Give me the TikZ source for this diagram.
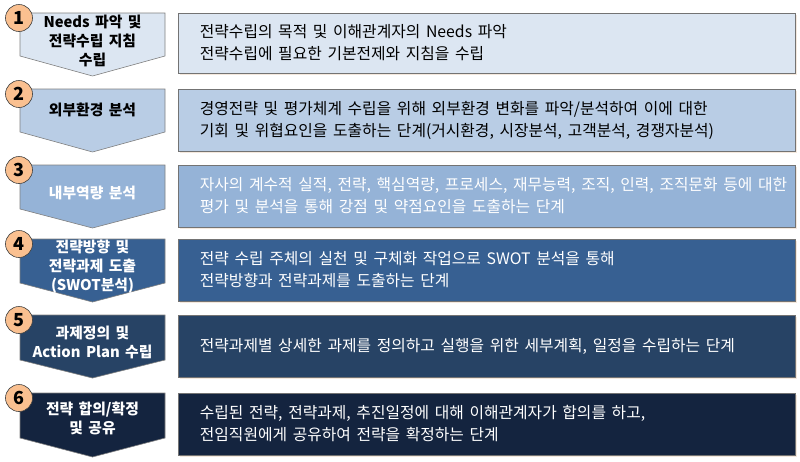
\documentclass[tikz,border=0pt]{standalone}
\usepackage{fontspec}
\setmainfont{Noto Sans CJK KR}[WordSpace=1.6]
\usetikzlibrary{shadows,positioning}
\definecolor{lvA}{HTML}{DCE6F2}
\definecolor{lvB}{HTML}{B9CDE5}
\definecolor{lvC}{HTML}{95B3D7}
\definecolor{lvD}{HTML}{376092}
\definecolor{lvE}{HTML}{274365}
\definecolor{lvF}{HTML}{14243F}
\definecolor{badge}{HTML}{FAC090}
\tikzstyle{chevron}=[draw=black!50,line width=0.6pt]
\tikzstyle{stepname}=[align=center,inner sep=0pt,font=\bfseries\fontsize{14.8}{19}\selectfont]
\tikzstyle{panel}=[rectangle,draw=black!55,line width=0.6pt,minimum width=617pt,minimum height=62pt,drop shadow={shadow xshift=1.5pt,shadow yshift=-1.5pt,fill=brown!30,opacity=0.6}]
\tikzstyle{detail}=[align=left,inner sep=0pt,font=\fontsize{15.8}{22}\selectfont]
\tikzstyle{number}=[circle,draw=black!75,fill=badge,line width=0.6pt,minimum size=27pt,inner sep=0pt,font=\bfseries\fontsize{18}{18}\selectfont]

\begin{document}
\begin{tikzpicture}[x=1pt,y=-1pt]
                    \useasboundingbox (0,0) rectangle (800,461);

                    % 1
                    \draw [chevron,fill=lvA] (20,13) -- (165,13) -- (165,56) -- (92.5,76) -- (20,56) -- cycle;
                    \node (s1) at (92.5,41) [stepname] {Needs 파악 및\\전략수립 지침\\수립};
                    \node (b1) at (486.5,43) [panel,fill=lvA,minimum height=60pt] {};
                    \node (d1) [detail,right=22pt of b1.west] {전략수립의 목적 및 이해관계자의 Needs 파악\\전략수립에 필요한 기본전제와 지침을 수립};
                    \node (n1) at (19,18) [number] {1};

                    % 2
                    \draw [chevron,fill=lvB] (20,89) -- (165,89) -- (165,132) -- (92.5,152) -- (20,132) -- cycle;
                    \node (s2) at (92.5,110) [stepname] {외부환경 분석};
                    \node (b2) at (486.5,120.5) [panel,fill=lvB] {};
                    \node (d2) [detail,right=22pt of b2.west] {경영전략 및 평가체계 수립을 위해 외부환경 변화를 파악/분석하여 이에 대한\\기회 및 위협요인을 도출하는 단계(거시환경, 시장분석, 고객분석, 경쟁자분석)};
                    \node (n2) at (19,94) [number] {2};

                    % 3
                    \draw [chevron,fill=lvC] (20,165) -- (165,165) -- (165,209) -- (92.5,228) -- (20,209) -- cycle;
                    \node (s3) at (92.5,193) [stepname,text=white] {내부역량 분석};
                    \node (b3) at (486.5,196) [panel,fill=lvC] {};
                    \node (d3) [detail,text=white,right=22pt of b3.west] {자사의 계수적 실적, 전략, 핵심역량, 프로세스, 재무능력, 조직, 인력, 조직문화 등에 대한\\평가 및 분석을 통해 강점 및 약점요인을 도출하는 단계};
                    \node (n3) at (19,170) [number] {3};

                    % 4
                    \draw [chevron,fill=lvD] (20,239) -- (165,239) -- (165,283) -- (92.5,302) -- (20,283) -- cycle;
                    \node (s4) at (92.5,267) [stepname,text=white] {전략방향 및\\전략과제 도출\\(SWOT분석)};
                    \node (b4) at (486.5,270) [panel,fill=lvD] {};
                    \node (d4) [detail,text=white,right=22pt of b4.west] {전략 수립 주체의 실천 및 구체화 작업으로 SWOT 분석을 통해\\전략방향과 전략과제를 도출하는 단계};
                    \node (n4) at (19,244) [number] {4};

                    % 5
                    \draw [chevron,fill=lvE] (20,315) -- (165,315) -- (165,360) -- (92.5,378) -- (20,360) -- cycle;
                    \node (s5) at (92.5,342) [stepname,text=white] {과제정의 및\\Action Plan 수립};
                    \node (b5) at (486.5,346) [panel,fill=lvE] {};
                    \node (d5) [detail,text=white,right=22pt of b5.west] {전략과제별 상세한 과제를 정의하고 실행을 위한 세부계획, 일정을 수립하는 단계};
                    \node (n5) at (19,320) [number] {5};

                    % 6
                    \draw [chevron,fill=lvF] (20,393) -- (165,393) -- (165,438) -- (92.5,457) -- (20,438) -- cycle;
                    \node (s6) at (92.5,418.5) [stepname,text=white] {전략 합의/확정\\및 공유};
                    \node (b6) at (486.5,424) [panel,fill=lvF] {};
                    \node (d6) [detail,text=white,right=22pt of b6.west] {수립된 전략, 전략과제, 추진일정에 대해 이해관계자가 합의를 하고,\\전임직원에게 공유하여 전략을 확정하는 단계};
                    \node (n6) at (19,398) [number] {6};
                \end{tikzpicture}
\end{document}
